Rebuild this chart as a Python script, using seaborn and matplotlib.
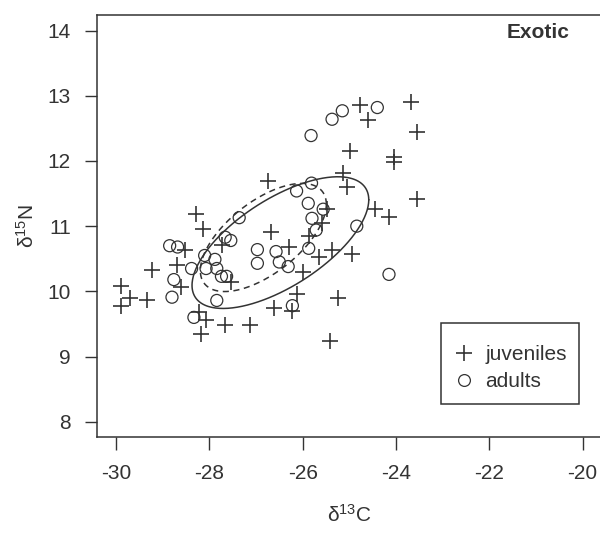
import numpy as np
import pandas as pd
import matplotlib
matplotlib.use("Agg")
import matplotlib.pyplot as plt
from matplotlib.lines import Line2D
import seaborn as sns

# ---- data ----
juv_d13C = [-29.89, -29.90, -29.70, -29.34, -29.23, -28.69, -28.52, -28.60, -28.28, -28.13,
            -28.22, -28.07, -28.18, -27.66, -27.72, -27.53, -27.12, -26.75, -26.67, -26.61,
            -26.30, -26.23, -26.12, -26.00, -25.86, -25.64, -25.59, -25.48, -25.41, -25.37,
            -25.24, -25.13, -25.06, -24.99, -24.94, -24.77, -24.59, -24.44, -24.16, -24.04,
            -24.04, -23.68, -23.54, -23.56]
juv_d15N = [10.08, 9.78, 9.89, 9.86, 10.33, 10.41, 10.64, 10.07, 11.18, 10.96,
            9.68, 9.56, 9.34, 9.48, 10.71, 10.14, 9.48, 11.70, 10.91, 9.74,
            10.68, 9.70, 9.96, 10.30, 10.85, 10.53, 11.05, 11.27, 9.24, 10.63,
            9.89, 11.82, 11.60, 12.15, 10.58, 12.86, 12.63, 11.26, 11.14, 12.06,
            11.99, 12.91, 12.44, 11.41]

adu_d13C = [-28.85, -28.68, -28.76, -28.80, -28.38, -28.33, -28.10, -28.07, -27.88, -27.84,
            -27.74, -27.63, -27.84, -27.66, -27.54, -27.36, -26.97, -26.97, -26.57, -26.50,
            -26.31, -26.22, -26.13, -25.88, -25.87, -25.81, -25.80, -25.71, -25.56, -25.82,
            -25.37, -25.15, -24.40, -24.84, -24.15]
adu_d15N = [10.70, 10.68, 10.18, 9.91, 10.35, 9.60, 10.55, 10.35, 10.49, 10.35,
            10.23, 10.23, 9.86, 10.83, 10.78, 11.13, 10.64, 10.43, 10.61, 10.45,
            10.38, 9.78, 11.54, 11.35, 10.66, 11.66, 11.12, 10.94, 11.26, 12.39,
            12.64, 12.77, 12.82, 11.00, 10.26]

groups = ["juveniles", "adults"]
x_ticks = [-30, -28, -26, -24, -22, -20]
y_ticks = [8, 9, 10, 11, 12, 13, 14]
panel_title = "Exotic"

df = pd.DataFrame({
    "d13C": juv_d13C + adu_d13C,
    "d15N": juv_d15N + adu_d15N,
    "group": [groups[0]] * len(juv_d13C) + [groups[1]] * len(adu_d13C),
})

# ---- style ----
sns.set_theme(style="white")
plt.rcParams["font.family"] = ["Liberation Sans", "DejaVu Sans"]
plt.rcParams["mathtext.default"] = "regular"
INK = "#333333"
FS = 15

fig = plt.figure(figsize=(6, 5.33), dpi=100)
ax = fig.add_axes([0.1622, 0.1795, 0.84, 0.7924])

jd = df[df.group == groups[0]]
ad = df[df.group == groups[1]]
sns.scatterplot(data=jd, x="d13C", y="d15N", marker="+", s=125, color=INK,
                linewidth=1.2, ax=ax, legend=False)
sns.scatterplot(data=ad, x="d13C", y="d15N", marker="o", s=75, facecolors="none",
                edgecolor=INK, linewidth=0.9, ax=ax, legend=False)

# standard ellipses from each group's covariance (small-sample corrected)
t = np.linspace(0, 2 * np.pi, 300)
for sub, ls in [(jd, "-"), (ad, (0, (4, 3)))]:
    n = len(sub)
    m = sub[["d13C", "d15N"]].mean().values
    c = np.cov(sub["d13C"], sub["d15N"]) * (n - 1) / (n - 2)
    L = np.linalg.cholesky(c)
    pts = m[:, None] + L @ np.vstack([np.cos(t), np.sin(t)])
    ax.plot(pts[0], pts[1], color=INK, lw=1.1, ls=ls)

ax.set_xlim(-30.4, -19.6)
ax.set_ylim(7.76, 14.24)
ax.set_xticks(x_ticks)
ax.set_yticks(y_ticks)
ax.set_xticklabels([str(v) for v in x_ticks])
ax.set_yticklabels([str(v) for v in y_ticks])
ax.tick_params(axis="both", which="both", direction="out", length=9, width=1.0,
               color=INK, labelcolor=INK, labelsize=FS, pad=10,
               bottom=True, left=True)
for sp in ax.spines.values():
    sp.set_color(INK)
    sp.set_linewidth(1.1)
    sp.set_visible(True)

ax.set_xlabel("δ$^{13}$C", fontsize=FS, color=INK, labelpad=15)
ax.set_ylabel("δ$^{15}$N", fontsize=FS, color=INK, labelpad=7)

ax.text(0.936, 0.958, panel_title, transform=ax.transAxes, ha="right", va="center",
        fontsize=FS, fontweight="bold", color=INK)

handles = [
    Line2D([], [], ls="none", marker="+", ms=11, mew=1.2, color=INK, label=groups[0]),
    Line2D([], [], ls="none", marker="o", ms=8.5, mew=0.9, mfc="none", mec=INK, label=groups[1]),
]
leg = ax.legend(handles=handles, loc="lower right", bbox_to_anchor=(0.956, 0.079),
                fontsize=FS, frameon=True, fancybox=False, framealpha=1,
                edgecolor=INK, borderpad=0.6, handlelength=1.0, handletextpad=0.5,
                labelspacing=0.4, borderaxespad=0, title=" ", title_fontsize=1)
leg.get_frame().set_linewidth(1.1)
for txt in leg.get_texts():
    txt.set_color(INK)

fig.savefig("out.png", dpi=100)
